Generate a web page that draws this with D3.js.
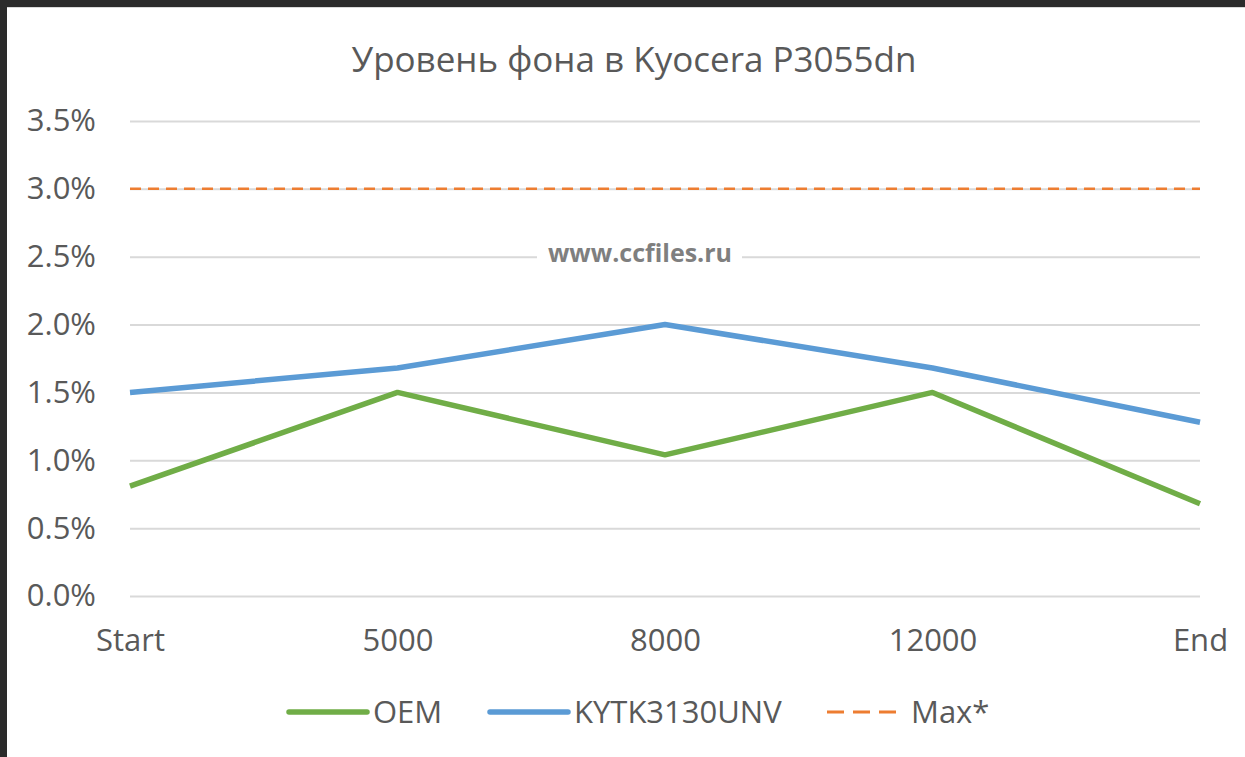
<!DOCTYPE html>
<html>
<head>
<meta charset="utf-8">
<script src="https://cdnjs.cloudflare.com/ajax/libs/d3/7.8.5/d3.min.js"></script>
<style>
	body { margin: 0; background: #2b2b2b; }
	svg { display: block; }
</style>
</head>
<body>
<script>
var categories = ["Start", "5000", "8000", "12000", "End"];
var oemValues = [0.0081, 0.0150, 0.0104, 0.0150, 0.0068];
var kyValues = [0.0150, 0.0168, 0.0200, 0.0168, 0.0128];
var maxValues = [0.03, 0.03, 0.03, 0.03, 0.03];
var yTicks = [0, 0.005, 0.01, 0.015, 0.02, 0.025, 0.03, 0.035];
var seriesNames = ["OEM", "KYTK3130UNV", "Max*"];

var width = 1245, height = 757;
var textColor = "#595959";
var font = "'Open Sans', sans-serif";

var svg = d3.select("body").append("svg").attr("width", width).attr("height", height);

// dark frame top/left, white chart area
svg.append("rect").attr("width", width).attr("height", height).style("fill", "#2b2b2b");
svg.append("rect").attr("x", 7).attr("y", 7).attr("width", width - 7).attr("height", height - 7)
	.style("fill", "#ffffff");
svg.append("line").attr("x1", 7).attr("x2", width).attr("y1", 7.5).attr("y2", 7.5)
	.style("stroke", "#d9d9d9").style("stroke-width", 1);

var x = d3.scalePoint().domain(categories).range([130, 1200]);
var y = d3.scaleLinear().domain([0, 0.035]).range([596, 121]);

// title
svg.append("text").attr("x", 634).attr("y", 72).attr("text-anchor", "middle")
	.style("font-family", font).style("font-size", "35px").style("fill", textColor)
	.text("Уровень фона в Kyocera P3055dn");

// gridlines + y labels
var yAxis = d3.axisLeft(y).tickValues(yTicks).tickFormat(d3.format(".1%"))
	.tickSize(-1070).tickPadding(34);
var gy = svg.append("g").attr("transform", "translate(130,0)").call(yAxis);
gy.select(".domain").remove();
gy.selectAll(".tick line").style("stroke", "#d9d9d9").style("stroke-width", 2);
gy.selectAll(".tick text").style("font-family", font).style("font-size", "31px").style("fill", textColor);

// x labels
var xAxis = d3.axisBottom(x).tickSize(0).tickPadding(33);
var gx = svg.append("g").attr("transform", "translate(0,596)").call(xAxis);
gx.select(".domain").remove();
gx.selectAll(".tick text").style("font-family", font).style("font-size", "31px").style("fill", textColor);

// watermark
svg.append("rect").attr("x", 537).attr("y", 236).attr("width", 205).attr("height", 34).style("fill", "#ffffff");
svg.append("text").attr("x", 640).attr("y", 262).attr("text-anchor", "middle")
	.style("font-family", font).style("font-size", "25px").style("font-weight", "bold").style("fill", "#7f7f7f")
	.text("www.ccfiles.ru");

var line = d3.line().x(function(d, i){ return x(categories[i]); }).y(function(d){ return y(d); });

svg.append("path").datum(maxValues).attr("d", line)
	.style("fill", "none").style("stroke", "#ed7d31").style("stroke-width", 2.5).style("stroke-dasharray", "11,7");
svg.append("path").datum(oemValues).attr("d", line)
	.style("fill", "none").style("stroke", "#70ad47").style("stroke-width", 5.5).style("stroke-linejoin", "round");
svg.append("path").datum(kyValues).attr("d", line)
	.style("fill", "none").style("stroke", "#5b9bd5").style("stroke-width", 5.5).style("stroke-linejoin", "round");

// legend
var legendItems = [
	{ name: seriesNames[0], x: 289, color: "#70ad47", w: 5.5, dash: null },
	{ name: seriesNames[1], x: 490, color: "#5b9bd5", w: 5.5, dash: null },
	{ name: seriesNames[2], x: 827, color: "#ed7d31", w: 2.8, dash: "17,9" }
];
var lg = svg.selectAll(".legend").data(legendItems).enter().append("g").attr("class", "legend");
lg.append("line").attr("x1", function(d){ return d.x; }).attr("x2", function(d){ return d.x + 78; })
	.attr("y1", 712).attr("y2", 712)
	.style("stroke", function(d){ return d.color; }).style("stroke-width", function(d){ return d.w; })
	.style("stroke-linecap", function(d){ return d.dash ? "butt" : "round"; })
	.style("stroke-dasharray", function(d){ return d.dash; });
lg.append("text").attr("x", function(d){ return d.x + 84; }).attr("y", 723)
	.style("font-family", font).style("font-size", "31px").style("fill", textColor)
	.text(function(d){ return d.name; });
</script>
</body>
</html>
